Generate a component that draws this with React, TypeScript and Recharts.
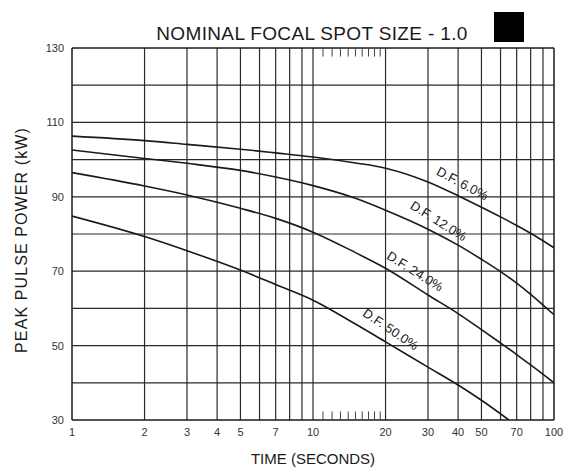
import {
  LineChart,
  Line,
  XAxis,
  YAxis,
  ReferenceLine,
  ReferenceDot,
} from "recharts";

// time in seconds (log axis)
const times = [1, 2, 3, 5, 7, 10, 15, 20, 30, 40, 50, 60, 70, 80, 100];
const df6 = [106.3, 105.1, 104.1, 102.8, 101.8, 100.7, 99.1, 97.7, 94.0, 90.3, 87.2, 84.6, 82.3, 80.2, 76.3];
const df12 = [102.6, 100.3, 99.0, 97.1, 95.3, 93.0, 89.6, 86.4, 81.3, 77.0, 73.2, 69.9, 66.8, 63.8, 58.3];
const df24 = [96.5, 92.9, 90.5, 86.9, 84.2, 80.5, 75.0, 70.8, 63.6, 58.6, 54.3, 50.7, 47.6, 44.8, 40.0];
const times50 = [1, 2, 3, 5, 7, 10, 15, 20, 30, 40, 50, 65];
const df50 = [84.8, 79.3, 75.5, 70.3, 66.4, 62.2, 55.8, 51.0, 44.2, 39.4, 35.3, 30.0];

const xTicks = [1, 2, 3, 4, 5, 7, 10, 20, 30, 40, 50, 70, 100];
const yTicks = [30, 50, 70, 90, 110, 130];
const xGrid = [2, 3, 4, 5, 6, 7, 8, 9, 10, 20, 30, 40, 50, 60, 70, 80, 90];
const yGrid = [40, 50, 60, 70, 80, 90, 100, 110, 120];
const minorTicks = [11, 12, 13, 14, 15, 16, 17, 18, 19];

const curveNames = ["D.F. 6.0%", "D.F. 12.0%", "D.F. 24.0%", "D.F. 50.0%"];
const labelTime = [41.7, 33.2, 26.5, 21.0];
const labelPower = [93.6, 83.5, 70.0, 54.4];
const labelAngle = [28, 32, 32, 34];

const toPoints = (xs: number[], ys: number[]) =>
  xs.map((x, i) => ({ x, y: ys[i] }));

const series = [
  toPoints(times, df6),
  toPoints(times, df12),
  toPoints(times, df24),
  toPoints(times50, df50),
];

const FONT = "'Liberation Sans', Arial, Helvetica, sans-serif";
const INK = "#1a1a1a";

const CurveLabel = ({ cx, cy, text, angle }: any) => (
  <text
    x={cx}
    y={cy + 4.5}
    transform={`rotate(${angle} ${cx} ${cy})`}
    textAnchor="middle"
    fontSize={13}
    fontFamily={FONT}
    fill={INK}>
    {text}
  </text>
);

export default function App() {
  return (
    <div
      style={{
        position: "absolute",
        left: 0,
        top: 0,
        width: 573,
        height: 468,
        background: "#fff",
        fontFamily: FONT,
        color: INK,
      }}>
      <LineChart
        width={573}
        height={468}
        margin={{ top: 48, right: 19, bottom: 18, left: 0 }}>
        <XAxis
          dataKey="x"
          type="number"
          scale="log"
          domain={[1, 100]}
          ticks={xTicks}
          interval={0}
          allowDataOverflow
          axisLine={false}
          tickLine={false}
          height={30}
          tick={{ fontSize: 11, fill: "#333", fontFamily: FONT }}
        />
        <YAxis
          dataKey="y"
          type="number"
          domain={[30, 130]}
          ticks={yTicks}
          interval={0}
          allowDataOverflow
          axisLine={false}
          tickLine={false}
          width={72}
          tick={{ fontSize: 11, fill: "#333", fontFamily: FONT }}
        />
        {xGrid.map((v) => (
          <ReferenceLine key={`vx${v}`} x={v} stroke="#2a2a2a" strokeWidth={1.2} />
        ))}
        {yGrid.map((v) => (
          <ReferenceLine key={`hy${v}`} y={v} stroke="#2a2a2a" strokeWidth={1.2} />
        ))}
        <ReferenceLine x={1} stroke={INK} strokeWidth={1.5} />
        <ReferenceLine x={100} stroke={INK} strokeWidth={1.5} />
        <ReferenceLine y={30} stroke={INK} strokeWidth={1.5} />
        <ReferenceLine y={130} stroke={INK} strokeWidth={1.5} />
        {minorTicks.map((v) => (
          <ReferenceLine
            key={`mb${v}`}
            segment={[
              { x: v, y: 30 },
              { x: v, y: 32.3 },
            ]}
            stroke="#444"
            strokeWidth={1}
          />
        ))}
        {minorTicks.map((v) => (
          <ReferenceLine
            key={`mt${v}`}
            segment={[
              { x: v, y: 130 },
              { x: v, y: 127.7 },
            ]}
            stroke="#444"
            strokeWidth={1}
          />
        ))}
        {series.map((data, i) => (
          <Line
            key={curveNames[i]}
            data={data}
            dataKey="y"
            type="monotone"
            stroke={INK}
            strokeWidth={1.6}
            dot={false}
            isAnimationActive={false}
          />
        ))}
        {curveNames.map((name, i) => (
          <ReferenceDot
            key={`lbl${i}`}
            x={labelTime[i]}
            y={labelPower[i]}
            r={1}
            shape={(p: any) => (
              <CurveLabel cx={p.cx} cy={p.cy} text={name} angle={labelAngle[i]} />
            )}
          />
        ))}
      </LineChart>
      <div
        style={{
          position: "absolute",
          left: 312,
          top: 24,
          transform: "translateX(-50%)",
          fontSize: 19,
          lineHeight: "19px",
          letterSpacing: 0.35,
          whiteSpace: "nowrap",
        }}>
        NOMINAL FOCAL SPOT SIZE - 1.0
      </div>
      <div
        style={{
          position: "absolute",
          left: 494,
          top: 12,
          width: 30,
          height: 30,
          background: "#000",
        }}
      />
      <div
        style={{
          position: "absolute",
          left: 313,
          top: 451,
          transform: "translateX(-50%)",
          fontSize: 15,
          lineHeight: "15px",
          whiteSpace: "nowrap",
        }}>
        TIME (SECONDS)
      </div>
      <div
        style={{
          position: "absolute",
          left: 22,
          top: 240,
          transform: "translate(-50%, -50%) rotate(-90deg)",
          fontSize: 16,
          lineHeight: "16px",
          letterSpacing: 1.1,
          whiteSpace: "nowrap",
        }}>
        PEAK PULSE POWER (kW)
      </div>
    </div>
  );
}
